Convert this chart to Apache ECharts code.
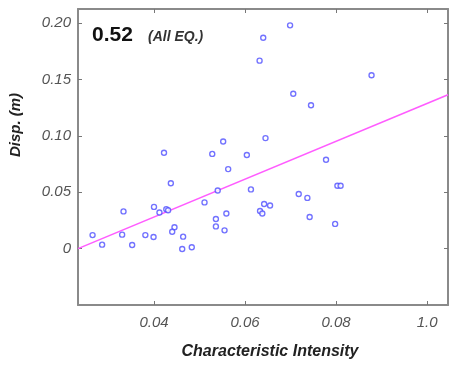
<!DOCTYPE html>
<html>
<head>
<meta charset="utf-8">
<script src="https://cdn.jsdelivr.net/npm/echarts@6/dist/echarts.min.js"></script>
<style>html,body{margin:0;padding:0;background:#fff;}#c{width:460px;height:372px;}</style>
</head>
<body>
<div id="c"></div>
<script>
const xValues = [0.0422,0.0437,0.0333,0.0400,0.0412,0.0427,0.0431,0.0265,0.0286,0.0330,0.0352,0.0381,0.0399,0.0445,0.0440,0.0464,0.0462,0.0483,
  0.0552,0.0645,0.0528,0.0604,0.0563,0.0540,0.0613,0.0511,0.0718,0.0737,0.0642,0.0655,0.0633,0.0638,0.0559,0.0536,0.0536,0.0555,0.0742,
  0.0778,0.0803,0.0810,0.0798,0.0699,0.0640,0.0632,0.0878,0.0706,0.0745];
const yValues = [0.085,0.058,0.033,0.037,0.032,0.035,0.034,0.012,0.0035,0.0124,0.0032,0.012,0.0103,0.019,0.015,0.0106,-0.0003,0.0012,
  0.095,0.098,0.084,0.083,0.0705,0.0516,0.0525,0.041,0.0484,0.045,0.0396,0.0383,0.0334,0.0312,0.0312,0.0263,0.0197,0.0162,0.028,
  0.0788,0.0558,0.0558,0.0219,0.198,0.187,0.1667,0.1537,0.1374,0.1272];
const fitX = [0.0233, 0.1046];
const fitY = [0.0, 0.1365];
const xTickValues = [0.04, 0.06, 0.08, 0.10];
const xTickLabels = ['0.04', '0.06', '0.08', '1.0'];
const yTickValues = [0, 0.05, 0.10, 0.15, 0.20];
const yTickLabels = ['0', '0.05', '0.10', '0.15', '0.20'];
const corrText = '0.52';
const noteText = '(All EQ.)';

const FONT = '"Liberation Sans", Arial, sans-serif';
const AX = '#8a8a8a';
const chart = echarts.init(document.getElementById('c'));
const xLab = v => { const i = xTickValues.findIndex(t => Math.abs(t - v) < 1e-9); return i >= 0 ? xTickLabels[i] : ''; };
const yLab = v => { const i = yTickValues.findIndex(t => Math.abs(t - v) < 1e-9); return i >= 0 ? yTickLabels[i] : ''; };
const axisLine = { show: true, onZero: false, lineStyle: { color: AX, width: 2 } };
const tick = (vals) => ({ show: true, inside: true, length: 4, customValues: vals, lineStyle: { color: '#777', width: 1 } });
chart.setOption({
  animation: false,
  grid: { left: 78, top: 9, right: 12, bottom: 67 },
  xAxis: [{
    type: 'value', min: 0.0233, max: 0.1046,
    axisLine: axisLine, axisTick: tick(xTickValues), splitLine: { show: false },
    axisLabel: { customValues: xTickValues, formatter: xLab, margin: 10, color: '#555', fontSize: 15, fontStyle: 'italic', fontFamily: FONT },
    name: 'Characteristic Intensity', nameLocation: 'middle', nameGap: 39,
    nameTextStyle: { fontSize: 16, fontWeight: 'bold', fontStyle: 'italic', color: '#222', fontFamily: FONT, padding: [0, 0, 0, 14] }
  }, {
    type: 'value', position: 'top', min: 0.0233, max: 0.1046,
    axisLine: axisLine, axisTick: tick(xTickValues), axisLabel: { show: false }, splitLine: { show: false }
  }],
  yAxis: [{
    type: 'value', min: -0.05, max: 0.2125,
    axisLine: axisLine, axisTick: tick(yTickValues), splitLine: { show: false },
    axisLabel: { customValues: yTickValues, formatter: yLab, margin: 7, color: '#555', fontSize: 15, fontStyle: 'italic', fontFamily: FONT }
  }, {
    type: 'value', position: 'right', min: -0.05, max: 0.2125,
    axisLine: axisLine, axisTick: tick(yTickValues), axisLabel: { show: false }, splitLine: { show: false }
  }],
  graphic: [
    { type: 'text', x: 92, y: 35, style: { text: corrText, fontSize: 21, fontWeight: 'bold', fontFamily: FONT, fill: '#111', textVerticalAlign: 'middle' } },
    { type: 'text', x: 148, y: 37, style: { text: noteText, fontSize: 14, fontWeight: 'bold', fontStyle: 'italic', fontFamily: FONT, fill: '#333', textVerticalAlign: 'middle' } },
    { type: 'text', x: 16, y: 125, rotation: Math.PI / 2, style: { text: 'Disp. (m)', fontSize: 15, fontWeight: 'bold', fontStyle: 'italic', fontFamily: FONT, fill: '#222', textAlign: 'center', textVerticalAlign: 'middle' } }
  ],
  series: [{
    type: 'line', data: fitX.map((x, i) => [x, fitY[i]]), symbol: 'none',
    lineStyle: { color: '#ff5cff', width: 1.6 }, z: 2
  }, {
    type: 'scatter', data: xValues.map((x, i) => [x, yValues[i]]),
    symbol: 'circle', symbolSize: 5,
    itemStyle: { color: '#fff', borderColor: '#4f4fff', borderWidth: 1.4 }, z: 3
  }]
});
</script>
</body>
</html>
